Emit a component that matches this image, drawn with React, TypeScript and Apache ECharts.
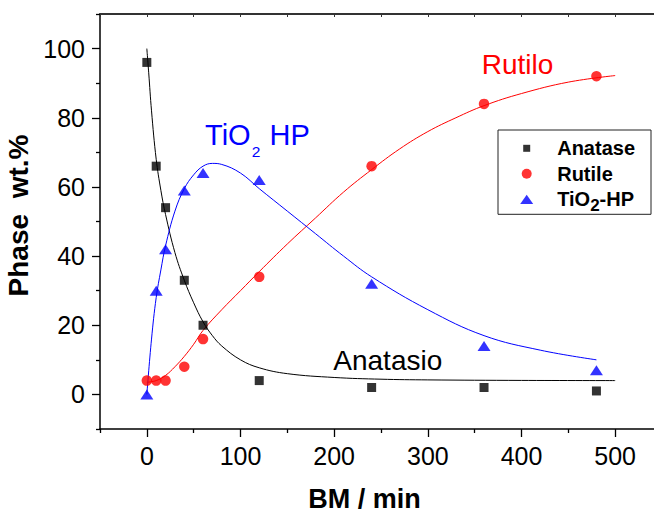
import { useEffect, useRef } from 'react';
import * as echarts from 'echarts';

const FONT = "'Liberation Sans', Arial, Helvetica, sans-serif";

// Measured data (BM time in min, phase wt.%)
const times = [0, 10, 20, 40, 60, 120, 240, 360, 480];
const anatase = [96, 66, 54, 33, 20, 4, 2, 2, 1];
const rutile = [4, 4, 4, 8, 16, 34, 66, 84, 92];
const tio2hp = [0, 30, 42, 59, 64, 62, 32, 14, 7];

// Fitted curves
const anataseFitT = [0, 2, 5, 10, 15, 20, 30, 40, 50, 60, 70, 80, 100, 120, 150, 200, 250, 300, 400, 500];
const anataseFitV = [100, 93, 82, 68, 59, 52, 41, 33, 26.5, 21, 17, 14, 10, 7.7, 6, 4.9, 4.4, 4.2, 4.05, 4];
const rutileFitT = [0, 10, 20, 30, 40, 50, 60, 80, 100, 120, 150, 180, 210, 240, 270, 300, 330, 360, 400, 450, 500];
const rutileFitV = [3.5, 4, 5.5, 8, 11, 14.5, 18.5, 24.5, 30, 35.5, 43.5, 51, 58.5, 65, 71, 76, 80, 83.5, 87, 90.3, 92.2];
const tio2FitT = [0, 5, 10, 15, 20, 30, 40, 50, 60, 70, 80, 100, 120, 150, 180, 210, 240, 300, 360, 420, 480];
const tio2FitV = [0, 16, 28, 36, 43, 53, 59.5, 63.5, 66, 66.8, 66.5, 64, 59.5, 53, 46.5, 40, 34, 24.5, 17, 12.8, 10];

// Ticks
const xMajorTicks = [0, 100, 200, 300, 400, 500];
const xMinorTicks = [-50, 50, 150, 250, 350, 450, 550];
const yMajorTicks = [0, 20, 40, 60, 80, 100];
const yMinorTicks = [-10, 10, 30, 50, 70, 90, 110];

const legendNames = ['Anatase', 'Rutile', 'TiO2-HP'];

const zip = (a: number[], b: number[]) => a.map((v, i) => [v, b[i]]);

export default function App() {
  const ref = useRef<HTMLDivElement>(null);
  useEffect(() => {
    if (!ref.current) return;
    const chart = echarts.init(ref.current, undefined, { renderer: 'svg' });
    const axisLineStyle = { color: '#000', width: 1.5 };
    const tickStyle = { color: '#000', width: 1.3 };
    const base = { type: 'value' as const, splitLine: { show: false } };
    const fitLine = (name: string, t: number[], v: number[], color: string) => ({
      name,
      type: 'line',
      data: zip(t, v),
      smooth: 0.4,
      showSymbol: false,
      symbol: 'none',
      lineStyle: { color, width: 1 },
      z: 2,
      silent: true,
    });
    chart.setOption({
      animation: false,
      backgroundColor: '#fff',
      textStyle: { fontFamily: FONT },
      grid: { left: 100, top: 14, width: 562, height: 415, containLabel: false, outerBoundsMode: 'none' },
      xAxis: [
        {
          ...base,
          position: 'bottom',
          min: -50,
          max: 550,
          interval: 50,
          axisLine: { show: true, onZero: false, lineStyle: axisLineStyle },
          axisTick: { show: true, inside: false, length: 8, lineStyle: tickStyle, customValues: xMajorTicks },
          axisLabel: { customValues: xMajorTicks, margin: 14, fontSize: 25, color: '#000', fontFamily: FONT },
          name: 'BM / min',
          nameLocation: 'middle',
          nameGap: 56,
          nameTextStyle: { fontSize: 27, fontWeight: 'bold', color: '#000', fontFamily: FONT, padding: [0, 33, 0, 0] },
        },
        {
          ...base,
          position: 'bottom',
          min: -50,
          max: 550,
          interval: 50,
          axisLine: { show: false, onZero: false },
          axisTick: { show: true, inside: false, length: 4, lineStyle: tickStyle, customValues: xMinorTicks },
          axisLabel: { show: false },
        },
        {
          ...base,
          position: 'top',
          min: -50,
          max: 550,
          interval: 50,
          axisLine: { show: true, onZero: false, lineStyle: { color: '#333', width: 2 } },
          axisTick: { show: true, inside: true, length: 3, lineStyle: { color: '#333', width: 1 } },
          axisLabel: { show: false },
        },
      ],
      yAxis: [
        {
          ...base,
          position: 'left',
          min: -10,
          max: 110,
          interval: 10,
          axisLine: { show: true, onZero: false, lineStyle: axisLineStyle },
          axisTick: { show: true, inside: false, length: 8, lineStyle: tickStyle, customValues: yMajorTicks },
          axisLabel: { customValues: yMajorTicks, margin: 15, fontSize: 25, color: '#000', fontFamily: FONT },
          name: 'Phase  wt.%',
          nameLocation: 'middle',
          nameGap: 60,
          nameRotate: 90,
          nameTextStyle: { fontSize: 28, fontWeight: 'bold', color: '#000', fontFamily: FONT, padding: [0, 0, 0, 12] },
        },
        {
          ...base,
          position: 'left',
          min: -10,
          max: 110,
          interval: 10,
          axisLine: { show: false, onZero: false },
          axisTick: { show: true, inside: false, length: 4, lineStyle: tickStyle, customValues: yMinorTicks },
          axisLabel: { show: false },
        },
      ],
      legend: {
        data: [
          { name: legendNames[0], icon: 'path://M0,0M10,10M1.5,1.5L8.5,1.5L8.5,8.5L1.5,8.5Z' },
          { name: legendNames[1], icon: 'path://M0,5A5,5,0,1,1,10,5A5,5,0,1,1,0,5Z' },
          { name: legendNames[2], icon: 'path://M0,-0.35M13,9.65M6.5,0L13,9.3L0,9.3Z' },
        ],
        orient: 'vertical',
        left: 498,
        top: 130,
        itemWidth: 51,
        itemHeight: 10,
        itemGap: 5.5,
        symbolKeepAspect: true,
        padding: [8.3, 16, 0, 22.2],
        borderColor: '#222',
        borderWidth: 1,
        selectedMode: false,
        formatter: (n: string) => (n === 'TiO2-HP' ? '{t|TiO}{s|2}{t|-HP}' : `{t|${n}}`),
        textStyle: {
          color: '#000',
          fontSize: 20,
          fontWeight: 'bold',
          fontFamily: FONT,
          rich: {
            t: { fontSize: 20, fontWeight: 'bold', padding: [2, 0, 2, 0], color: '#000', fontFamily: FONT },
            s: { fontSize: 17, fontWeight: 'bold', padding: [13, 0, 0, 0], color: '#000', fontFamily: FONT },
          },
        },
      },
      series: [
        fitLine('Anatase fit', anataseFitT, anataseFitV, '#000'),
        fitLine('Rutile fit', rutileFitT, rutileFitV, '#ff0000'),
        fitLine('TiO2-HP fit', tio2FitT, tio2FitV, '#0000ff'),
        { name: 'Anatase', type: 'scatter', data: zip(times, anatase), symbol: 'rect', symbolSize: 9, itemStyle: { color: '#000' }, z: 3 },
        { name: 'Rutile', type: 'scatter', data: zip(times, rutile), symbol: 'circle', symbolSize: 10.5, itemStyle: { color: '#ff0000' }, z: 3 },
        { name: 'TiO2-HP', type: 'scatter', data: zip(times, tio2hp), symbol: 'triangle', symbolSize: [13, 10], itemStyle: { color: '#0000ff' }, z: 3 },
      ],
      graphic: [
        { type: 'text', x: 481.7, y: 64.1, style: { text: 'Rutilo', fill: '#ff0000', fontSize: 28, fontFamily: FONT, align: 'left', verticalAlign: 'middle' } },
        { type: 'text', x: 333.3, y: 360.1, style: { text: 'Anatasio', fill: '#000', fontSize: 28, fontFamily: FONT, align: 'left', verticalAlign: 'middle' } },
        { type: 'text', x: 205, y: 134.7, style: { text: 'TiO', fill: '#0000ff', fontSize: 29, fontFamily: FONT, align: 'left', verticalAlign: 'middle' } },
        { type: 'text', x: 251.7, y: 151.7, style: { text: '2', fill: '#0000ff', fontSize: 15.5, fontFamily: FONT, align: 'left', verticalAlign: 'middle' } },
        { type: 'text', x: 269.5, y: 134.7, style: { text: 'HP', fill: '#0000ff', fontSize: 29, fontFamily: FONT, align: 'left', verticalAlign: 'middle' } },
      ],
    });
    return () => chart.dispose();
  }, []);
  return <div ref={ref} style={{ position: 'fixed', left: 0, top: 0, width: 654, height: 514, background: '#fff' }} />;
}
